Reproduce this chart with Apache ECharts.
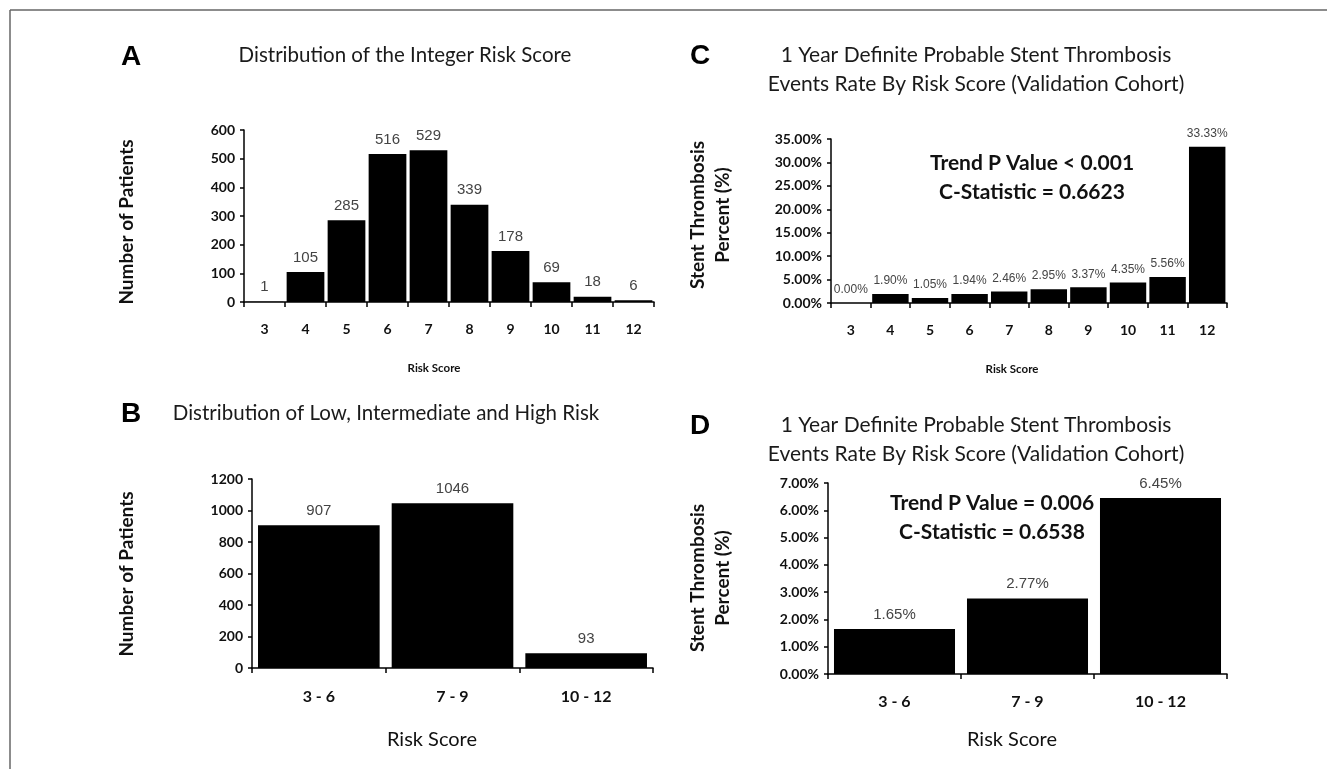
<!DOCTYPE html>
<html><head><meta charset="utf-8">
<script src="https://cdn.jsdelivr.net/npm/echarts@6/dist/echarts.min.js"></script>
<style>html,body{margin:0;padding:0;background:#fff}#c{width:1327px;height:769px}</style>
</head><body><div id="c"></div>
<script>
// ---- data ----
const scoreCats = ['3','4','5','6','7','8','9','10','11','12'];
const patientsByScore = [1,105,285,516,529,339,178,69,18,6];
const groupCats = ['3 - 6','7 - 9','10 - 12'];
const patientsByGroup = [907,1046,93];
const stRateByScore = [0.00,1.90,1.05,1.94,2.46,2.95,3.37,4.35,5.56,33.33];
const stRateByGroup = [1.65,2.77,6.45];

const titleA = 'Distribution of the Integer Risk Score';
const titleB = 'Distribution of Low, Intermediate and High Risk';
const titleCD1 = '1 Year Definite Probable Stent Thrombosis';
const titleCD2 = 'Events Rate By Risk Score (Validation Cohort)';
const annC = ['Trend P Value < 0.001','C-Statistic = 0.6623'];
const annD = ['Trend P Value = 0.006','C-Statistic = 0.6538'];

const CAL = 'Lato, "Open Sans", sans-serif';
const ARI = '"Liberation Sans", Arial, sans-serif';

function xAx(gi, cats, fs, margin){
  return {type:'category', gridIndex:gi, data:cats,
    axisLine:{lineStyle:{color:'#000',width:1.5}},
    axisTick:{show:true,length:5,lineStyle:{color:'#000',width:1.5}},
    axisLabel:{color:'#111',fontFamily:CAL,fontWeight:'bold',fontSize:fs,margin:margin},
    splitLine:{show:false}};
}
function yAx(gi, max, interval, fmt){
  return {type:'value', gridIndex:gi, min:0, max:max, interval:interval,
    axisLine:{show:true,lineStyle:{color:'#000',width:1.5}},
    axisTick:{show:true,length:4,lineStyle:{color:'#000',width:1.5}},
    axisLabel:{color:'#111',fontFamily:CAL,fontWeight:'bold',fontSize:14,margin:9,formatter:fmt},
    splitLine:{show:false}};
}
function bar(gi, data, gap, fs, fmt){
  return {type:'bar', xAxisIndex:gi, yAxisIndex:gi, data:data, barCategoryGap:gap,
    itemStyle:{color:'#000'}, animation:false,
    label:{show:true,position:'top',distance:7,color:'#444',fontFamily:ARI,fontSize:fs,formatter:fmt}};
}
function txt(x,y,s,size,weight,family,rot,fill){
  return {type:'text', x:x, y:y, rotation:rot||0,
    style:{text:s, font: (weight||'normal')+' '+size+'px '+family, fill:fill||'#111', align:'center', verticalAlign:'middle'}};
}
const pct = v => v.toFixed(2)+'%';
const plain = v => String(v);

const chart = echarts.init(document.getElementById('c'));
chart.setOption({
  backgroundColor:'#fff',
  animation:false,
  grid:[
    {left:244, top:130, width:410, height:172},
    {left:252, top:479, width:401, height:189},
    {left:831, top:139, width:396, height:164},
    {left:828, top:483, width:399, height:191}
  ],
  xAxis:[ xAx(0,scoreCats,14,20), xAx(1,groupCats,16,21), xAx(2,scoreCats,14,20), xAx(3,groupCats,16,20) ],
  yAxis:[ yAx(0,600,100,plain), yAx(1,1200,200,plain), yAx(2,35,5,pct), yAx(3,7,1,pct) ],
  series:[
    bar(0,patientsByScore,'8%',15),
    bar(1,patientsByGroup,'9%',15),
    bar(2,stRateByScore,'8%',12,p=>pct(p.value)),
    bar(3,stRateByGroup,'9%',15,p=>pct(p.value))
  ],
  graphic:[
    {type:'line', shape:{x1:10,y1:10,x2:1327,y2:10}, style:{stroke:'#666',lineWidth:1.5}},
    {type:'line', shape:{x1:10,y1:10,x2:10,y2:769}, style:{stroke:'#666',lineWidth:1.5}},
    txt(131,57,'A',28,'bold',ARI,0,'#000'),
    txt(131,414,'B',28,'bold',ARI,0,'#000'),
    txt(700,56,'C',28,'bold',ARI,0,'#000'),
    txt(700,426,'D',28,'bold',ARI,0,'#000'),
    txt(405,55,titleA,20.5,'normal',CAL,0,'#1a1a1a'),
    txt(386,413,titleB,20.5,'normal',CAL,0,'#1a1a1a'),
    txt(976,55,titleCD1,21,'normal',CAL,0,'#1a1a1a'),
    txt(976,84,titleCD2,21,'normal',CAL,0,'#1a1a1a'),
    txt(976,425,titleCD1,21,'normal',CAL,0,'#1a1a1a'),
    txt(976,454,titleCD2,21,'normal',CAL,0,'#1a1a1a'),
    txt(127,222,'Number of Patients',19,'bold',CAL,Math.PI/2),
    txt(127,574,'Number of Patients',19,'bold',CAL,Math.PI/2),
    txt(698,215,'Stent Thrombosis',19,'bold',CAL,Math.PI/2),
    txt(723,215,'Percent (%)',19,'bold',CAL,Math.PI/2),
    txt(698,578,'Stent Thrombosis',19,'bold',CAL,Math.PI/2),
    txt(723,578,'Percent (%)',19,'bold',CAL,Math.PI/2),
    txt(434,368,'Risk Score',11.5,'bold',CAL),
    txt(1012,369,'Risk Score',11.5,'bold',CAL),
    txt(432,740,'Risk Score',20,'normal',CAL),
    txt(1012,740,'Risk Score',20,'normal',CAL),
    txt(1032,163,annC[0],21,'bold',CAL),
    txt(1032,192,annC[1],21,'bold',CAL),
    txt(992,503,annD[0],21,'bold',CAL),
    txt(992,532,annD[1],21,'bold',CAL)
  ]
});
</script></body></html>
